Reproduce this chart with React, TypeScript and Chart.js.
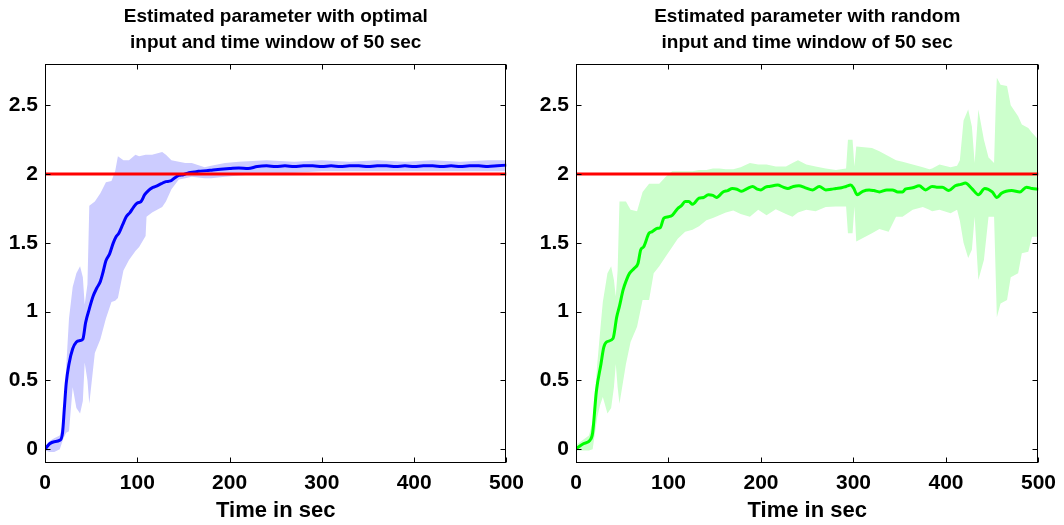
import React, { useEffect, useRef } from "react";
import { Chart, registerables } from "chart.js";

Chart.register(...registerables);

// ---------- data ----------
const TRUE_VALUE = 2;
const xTicks = [0, 100, 200, 300, 400, 500];
const yTicks = [0, 0.5, 1, 1.5, 2, 2.5];
const xLabel = "Time in sec";
const titleOptimal = ["Estimated parameter with optimal", "input and time window of 50 sec"];
const titleRandom = ["Estimated parameter with random", "input and time window of 50 sec"];

// left: optimal input
const optBandT = [0, 5, 10, 16, 20, 23, 26, 30, 34, 38, 41, 43, 46, 48, 54, 60, 66, 72, 76, 79, 85, 91, 98, 102, 109, 110, 116, 127, 131, 137, 145, 152, 159, 173, 180, 195, 210, 240, 270, 300, 330, 360, 390, 420, 450, 480, 500];
const optUpper = [0.02, 0.06, 0.08, 0.10, 0.2, 0.6, 0.95, 1.18, 1.28, 1.33, 1.25, 1.05, 1.2, 1.77, 1.80, 1.86, 1.94, 1.95, 2.02, 2.13, 2.10, 2.10, 2.14, 2.13, 2.14, 2.14, 2.14, 2.16, 2.14, 2.10, 2.09, 2.08, 2.08, 2.05, 2.06, 2.08, 2.09, 2.10, 2.09, 2.10, 2.09, 2.10, 2.09, 2.10, 2.09, 2.10, 2.10];
const optLower = [-0.01, -0.02, -0.02, 0.0, 0.08, 0.12, 0.13, 0.45, 0.3, 0.26, 0.35, 0.63, 0.5, 0.33, 0.7, 0.8, 0.95, 1.07, 1.08, 1.1, 1.3, 1.375, 1.44, 1.47, 1.55, 1.69, 1.72, 1.76, 1.8, 1.89, 1.96, 1.97, 1.98, 1.97, 1.97, 1.98, 1.99, 2.005, 2.01, 2.02, 2.02, 2.02, 2.02, 2.02, 2.02, 2.02, 2.02];
const optMeanT = [0, 5, 10, 16, 19, 21, 23, 26, 30, 34, 38, 41, 44, 48, 52, 56, 60, 63, 66, 70, 74, 77, 80, 84, 88, 92, 96, 100, 104, 108, 112, 116, 120, 126, 131, 136, 140, 145, 150, 156, 162, 166, 175, 182, 190, 200, 210, 220, 230, 240, 250, 260, 270, 280, 290, 300, 310, 320, 330, 340, 350, 360, 370, 380, 390, 400, 410, 420, 430, 440, 450, 460, 470, 480, 490, 500];
const optMean = [0, 0.04, 0.055, 0.065, 0.12, 0.3, 0.48, 0.62, 0.73, 0.78, 0.79, 0.8, 0.92, 1.02, 1.11, 1.17, 1.22, 1.29, 1.37, 1.42, 1.5, 1.545, 1.57, 1.63, 1.69, 1.72, 1.76, 1.79, 1.8, 1.85, 1.88, 1.9, 1.91, 1.93, 1.945, 1.95, 1.97, 1.99, 1.995, 2.01, 2.015, 2.02, 2.025, 2.03, 2.035, 2.04, 2.045, 2.04, 2.055, 2.06, 2.055, 2.06, 2.055, 2.06, 2.06, 2.055, 2.06, 2.055, 2.06, 2.06, 2.055, 2.06, 2.06, 2.055, 2.06, 2.055, 2.06, 2.06, 2.055, 2.06, 2.055, 2.06, 2.06, 2.055, 2.06, 2.065];

// right: random input
const rndBandT = [0, 14, 18, 23, 26, 29, 34, 38, 41, 43, 45, 47, 54, 59, 66, 72, 79, 84, 90, 97, 104, 110, 118, 126, 133, 141, 148, 155, 162, 170, 178, 188, 197, 206, 216, 227, 234, 240, 249, 259, 270, 281, 292, 294, 299, 301, 303, 320, 328, 338, 346, 353, 364, 375, 382, 385, 393, 405, 412, 415, 419, 424, 428, 431, 435, 441, 446, 452, 454, 455, 459, 466, 470, 478, 482, 489, 493, 500];
const rndUpper = [0.03, 0.10, 0.2, 0.62, 0.85, 1.07, 1.28, 1.33, 1.23, 1.11, 1.3, 1.80, 1.80, 1.74, 1.73, 1.87, 1.93, 1.93, 1.93, 1.98, 2.02, 2.02, 2.02, 2.02, 2.03, 2.03, 2.04, 2.04, 2.035, 2.035, 2.05, 2.08, 2.07, 2.07, 2.055, 2.055, 2.08, 2.10, 2.07, 2.055, 2.04, 2.03, 2.04, 2.25, 2.25, 2.055, 2.20, 2.19, 2.165, 2.13, 2.10, 2.09, 2.07, 2.05, 2.035, 2.04, 2.07, 2.05, 2.06, 2.10, 2.39, 2.47, 2.345, 2.08, 2.47, 2.25, 2.12, 2.08, 2.55, 2.70, 2.65, 2.64, 2.50, 2.42, 2.36, 2.335, 2.30, 2.25];
const rndLower = [-0.01, -0.01, 0.0, 0.235, 0.32, 0.38, 0.26, 0.30, 0.45, 0.62, 0.45, 0.33, 0.62, 0.78, 0.89, 1.085, 1.085, 1.28, 1.33, 1.40, 1.47, 1.53, 1.58, 1.595, 1.62, 1.665, 1.68, 1.70, 1.72, 1.735, 1.71, 1.69, 1.74, 1.70, 1.745, 1.71, 1.69, 1.72, 1.74, 1.73, 1.76, 1.765, 1.765, 1.57, 1.57, 1.765, 1.51, 1.57, 1.60, 1.58, 1.69, 1.69, 1.74, 1.76, 1.74, 1.73, 1.74, 1.715, 1.74, 1.66, 1.50, 1.39, 1.45, 1.69, 1.23, 1.375, 1.69, 1.69, 1.2, 0.96, 1.06, 1.085, 1.25, 1.28, 1.425, 1.435, 1.545, 1.545];
const rndMeanT = [0, 8, 15, 18, 22, 27, 30, 33, 40, 44, 47, 51, 54, 58, 63, 67, 70, 73, 79, 82, 88, 91, 95, 100, 104, 110, 114, 118, 122, 126, 133, 138, 143, 148, 152, 159, 164, 169, 174, 179, 185, 191, 196, 200, 205, 209, 218, 224, 229, 235, 241, 248, 256, 263, 270, 276, 281, 287, 292, 297, 300, 304, 310, 317, 322, 328, 336, 342, 348, 353, 356, 364, 371, 378, 385, 390, 396, 403, 410, 416, 421, 428, 435, 442, 450, 455, 460, 465, 471, 480, 487, 493, 500];
const rndMean = [0.005, 0.04, 0.065, 0.12, 0.42, 0.62, 0.74, 0.78, 0.805, 0.96, 1.04, 1.16, 1.22, 1.28, 1.315, 1.35, 1.45, 1.47, 1.57, 1.58, 1.606, 1.61, 1.68, 1.69, 1.70, 1.75, 1.77, 1.80, 1.80, 1.78, 1.825, 1.83, 1.85, 1.845, 1.83, 1.87, 1.88, 1.895, 1.89, 1.875, 1.895, 1.91, 1.89, 1.885, 1.905, 1.91, 1.92, 1.905, 1.895, 1.91, 1.915, 1.90, 1.885, 1.91, 1.885, 1.89, 1.895, 1.90, 1.91, 1.92, 1.90, 1.85, 1.875, 1.885, 1.88, 1.87, 1.885, 1.885, 1.87, 1.87, 1.89, 1.90, 1.915, 1.885, 1.91, 1.905, 1.905, 1.88, 1.915, 1.925, 1.935, 1.895, 1.85, 1.895, 1.87, 1.83, 1.86, 1.875, 1.88, 1.87, 1.905, 1.895, 1.89];

// ---------- styling ----------
const FONT = '"Liberation Sans", Arial, Helvetica, sans-serif';
const CANVAS_W = 532;
const CANVAS_H = 525;

const pts = (t: number[], v: number[]) => t.map((x, i) => ({ x, y: v[i] }));

const framePlugin = {
  id: "matlabFrame",
  afterDraw(chart: any, _args: any, opts: any) {
    const { ctx, chartArea: a, scales } = chart;
    const L = Math.round(a.left) + 0.5;
    const R = Math.round(a.right) - 0.5;
    const T = Math.round(a.top) + 0.5;
    const B = Math.round(a.bottom) - 0.5;
    ctx.save();
    ctx.strokeStyle = "#000";
    ctx.lineWidth = 1;
    ctx.strokeRect(L, T, R - L, B - T);
    const tl = 5;
    ctx.beginPath();
    xTicks.forEach((v) => {
      const px = Math.round(scales.x.getPixelForValue(v)) + 0.5;
      ctx.moveTo(px, B);
      ctx.lineTo(px, B - tl);
      ctx.moveTo(px, T);
      ctx.lineTo(px, T + tl);
    });
    yTicks.forEach((v) => {
      const py = Math.round(scales.y.getPixelForValue(v)) + 0.5;
      ctx.moveTo(L, py);
      ctx.lineTo(L + tl, py);
      ctx.moveTo(R, py);
      ctx.lineTo(R - tl, py);
    });
    ctx.stroke();

    const cx = (a.left + a.right) / 2;
    ctx.fillStyle = "#000";
    ctx.textAlign = "center";
    ctx.textBaseline = "alphabetic";
    ctx.font = `bold 19px ${FONT}`;
    ctx.fillText(opts.title[0], cx, 22);
    ctx.fillText(opts.title[1], cx, 48);
    ctx.font = `bold 22px ${FONT}`;
    ctx.fillText(xLabel, cx, 517);
    ctx.restore();
  },
};

type PanelProps = {
  left: number;
  yWidth: number;
  padRight: number;
  title: string[];
  bandT: number[];
  upper: number[];
  lower: number[];
  meanT: number[];
  mean: number[];
  lineColor: string;
  bandColor: string;
};

function Panel(p: PanelProps) {
  const ref = useRef<HTMLCanvasElement | null>(null);
  useEffect(() => {
    if (!ref.current) return;
    const tickFont = { family: FONT, size: 21, weight: "bold" as const };
    const chart = new Chart(ref.current, {
      type: "line",
      data: {
        datasets: [
          {
            data: [
              { x: 0, y: TRUE_VALUE },
              { x: 500, y: TRUE_VALUE },
            ],
            borderColor: "#ff0000",
            borderWidth: 3,
            pointRadius: 0,
            fill: false,
          },
          {
            data: pts(p.meanT, p.mean),
            borderColor: p.lineColor,
            borderWidth: 3,
            pointRadius: 0,
            fill: false,
            cubicInterpolationMode: "monotone",
          },
          {
            data: pts(p.bandT, p.upper),
            borderWidth: 0,
            borderColor: "rgba(0,0,0,0)",
            backgroundColor: p.bandColor,
            pointRadius: 0,
            fill: "+1",
          },
          {
            data: pts(p.bandT, p.lower),
            borderWidth: 0,
            borderColor: "rgba(0,0,0,0)",
            pointRadius: 0,
            fill: false,
          },
        ],
      },
      options: {
        animation: false,
        responsive: false,
        devicePixelRatio: 1,
        parsing: false as any,
        layout: { padding: { top: 64, right: p.padRight, left: 0, bottom: 0 } },
        plugins: {
          legend: { display: false },
          tooltip: { enabled: false },
          title: { display: false },
          matlabFrame: { title: p.title },
        } as any,
        scales: {
          x: {
            type: "linear",
            min: 0,
            max: 500,
            grid: { display: false, drawTicks: false },
            border: { display: false },
            afterBuildTicks: (s: any) => {
              s.ticks = xTicks.map((v) => ({ value: v }));
            },
            afterFit: (s: any) => {
              s.height = 62;
            },
            ticks: {
              color: "#000",
              font: tickFont,
              padding: 8,
              maxRotation: 0,
              autoSkip: false,
              callback: (v: any) => String(v),
            },
          },
          y: {
            type: "linear",
            min: -0.1,
            max: 2.8,
            grid: { display: false, drawTicks: false },
            border: { display: false },
            afterBuildTicks: (s: any) => {
              s.ticks = yTicks.map((v) => ({ value: v }));
            },
            afterFit: (s: any) => {
              s.width = p.yWidth;
            },
            ticks: {
              color: "#000",
              font: tickFont,
              padding: 7,
              autoSkip: false,
              callback: (v: any) => String(v),
            },
          },
        },
      },
      plugins: [framePlugin],
    });
    return () => chart.destroy();
  }, []);
  return (
    <div style={{ position: "absolute", left: p.left, top: 0, width: CANVAS_W, height: CANVAS_H }}>
      <canvas ref={ref} width={CANVAS_W} height={CANVAS_H} style={{ display: "block" }} />
    </div>
  );
}

export default function App() {
  return (
    <div
      style={{
        position: "fixed",
        left: 0,
        top: 0,
        width: 1064,
        height: 525,
        background: "#fff",
        overflow: "hidden",
      }}
    >
      <Panel
        left={0}
        yWidth={45}
        padRight={21}
        title={titleOptimal}
        bandT={optBandT}
        upper={optUpper}
        lower={optLower}
        meanT={optMeanT}
        mean={optMean}
        lineColor="#0000ff"
        bandColor="#ccccff"
      />
      <Panel
        left={532}
        yWidth={44}
        padRight={24}
        title={titleRandom}
        bandT={rndBandT}
        upper={rndUpper}
        lower={rndLower}
        meanT={rndMeanT}
        mean={rndMean}
        lineColor="#00ff00"
        bandColor="#ccffcc"
      />
    </div>
  );
}
